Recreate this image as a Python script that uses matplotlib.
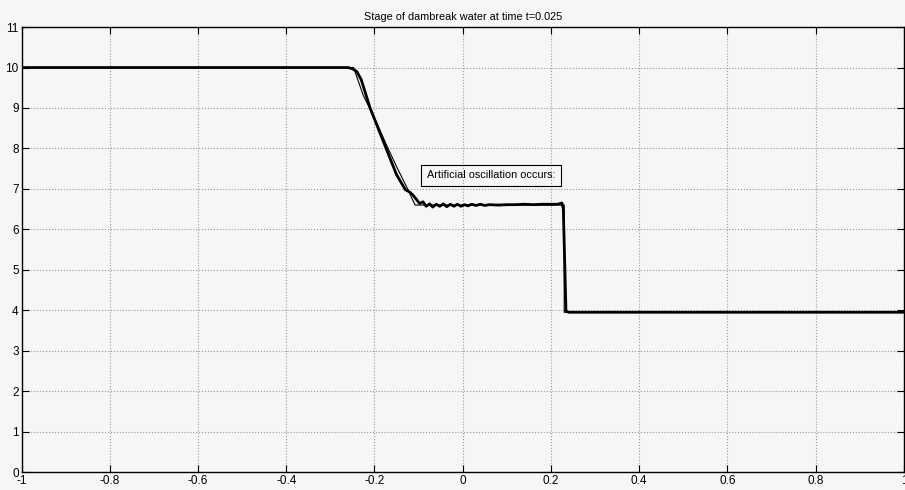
import matplotlib
matplotlib.use("Agg")
import matplotlib.pyplot as plt

# exact dambreak solution (thin line)
X_EXACT = [-1.0, -0.2475, -0.225, -0.2, -0.175, -0.15, -0.125, -0.108,
           0.23, 0.23, 1.0]
H_EXACT = [10.0, 10.0, 9.3, 8.76, 8.14, 7.55, 7.0, 6.6, 6.6, 3.95, 3.95]

# numerical solution (thick line) with the oscillations behind the rarefaction
X_NUM = [-1.0, -0.26, -0.25, -0.24, -0.23, -0.22, -0.21, -0.19, -0.17, -0.15,
         -0.13, -0.12, -0.113, -0.105, -0.098, -0.09, -0.083, -0.075, -0.068,
         -0.06, -0.052, -0.044, -0.036, -0.028, -0.02, -0.012, -0.004, 0.004,
         0.012, 0.02, 0.03, 0.04, 0.05, 0.06, 0.08, 0.10, 0.12, 0.14, 0.16,
         0.18, 0.20, 0.215, 0.225, 0.228, 0.234, 0.24, 1.0]
H_NUM = [10.0, 10.0, 9.97, 9.9, 9.7, 9.35, 9.0, 8.45, 7.9, 7.35,
         6.98, 6.92, 6.85, 6.74, 6.64, 6.68, 6.57, 6.63, 6.55,
         6.62, 6.57, 6.63, 6.56, 6.62, 6.57, 6.62, 6.57, 6.61,
         6.58, 6.62, 6.59, 6.62, 6.59, 6.61, 6.6, 6.61, 6.61, 6.62, 6.61,
         6.62, 6.62, 6.62, 6.65, 6.5, 3.98, 3.95, 3.95]

X_TICKS = [-1, -0.8, -0.6, -0.4, -0.2, 0, 0.2, 0.4, 0.6, 0.8, 1]
X_LABELS = ["-1", "-0.8", "-0.6", "-0.4", "-0.2", "0", "0.2", "0.4", "0.6",
            "0.8", "1"]
Y_TICKS = list(range(0, 12))

TITLE = "Stage of dambreak water at time t=0.025"
NOTE = "Artificial oscillation occurs:"
NOTE_XY = (0.064, 7.34)


def main():
    plt.rcParams.update({"font.family": "Liberation Sans", "font.size": 8.5})
    fig = plt.figure(figsize=(9.05, 4.9), dpi=100, facecolor="#f6f6f6")
    ax = fig.add_axes([0.0238, 0.0367, 0.975, 0.908])
    ax.set_facecolor("#f6f6f6")

    ax.plot(X_EXACT, H_EXACT, color="black", lw=0.8, zorder=3)
    ax.plot(X_NUM, H_NUM, color="black", lw=2.0, zorder=4)

    ax.set_xlim(-1, 1)
    ax.set_ylim(0, 11)
    ax.set_xticks(X_TICKS)
    ax.set_xticklabels(X_LABELS)
    ax.set_yticks(Y_TICKS)
    ax.grid(True, linestyle=":", color="#999999", lw=0.8)
    ax.tick_params(direction="in", top=True, right=True, length=5,
                   width=0.8, pad=2, labelsize=8.5)
    for s in ax.spines.values():
        s.set_linewidth(1.0)

    ax.set_title(TITLE, fontsize=7.8, pad=5)
    ax.text(NOTE_XY[0], NOTE_XY[1], NOTE, ha="center", va="center", fontsize=7.8,
            bbox=dict(boxstyle="square,pad=0.5", fc="none", ec="black", lw=0.8),
            zorder=5)

    fig.savefig("out.png", dpi=100, facecolor=fig.get_facecolor())


if __name__ == "__main__":
    main()
